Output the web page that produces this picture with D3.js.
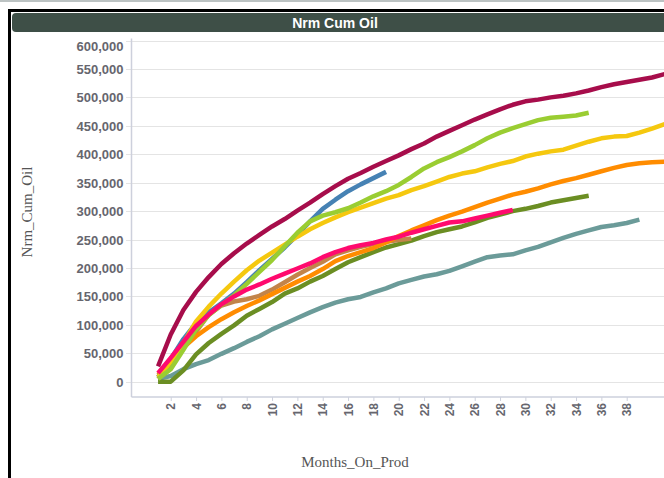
<!DOCTYPE html>
<html>
<head>
<meta charset="utf-8">
<script src="https://cdn.jsdelivr.net/npm/d3@7"></script>
<style>
  html, body { margin: 0; padding: 0; background: #ffffff; }
  svg { display: block; }
</style>
</head>
<body>
<div id="chart"></div>
<script>
// ---- Data (cumulative normalized oil by month on production) ----
const chartTitle = "Nrm Cum Oil";
const xTitle = "Months_On_Prod";
const yTitle = "Nrm_Cum_Oil";
const xTicks = [2,4,6,8,10,12,14,16,18,20,22,24,26,28,30,32,34,36,38];
const yTicks = [0,50000,100000,150000,200000,250000,300000,350000,400000,450000,500000,550000,600000];

const seriesNames  = ["teal","olive","brown","orange","blue","yellow","lime","pink","crimson"];
const seriesColors = ["#6b9b99","#6b8e23","#c2844a","#ff8c00","#4682b4","#f5c80f","#9acd32","#ff0a6e","#a70d4b"];

const tealVals = [5000,10000,22000,31000,38000,49000,59000,70000,80000,92000,102000,112000,122000,131000,139000,145000,149000,157000,164000,173000,179000,185000,189000,195000,203000,211000,219000,222000,224000,231000,237000,245000,253000,260000,266000,272000,275000,279000,285000];
const oliveVals = [0,0,20000,48000,68000,84000,99000,116000,128000,140000,155000,164000,176000,186000,198000,210000,219000,228000,236000,242000,248000,256000,263000,268000,273000,280000,288000,294000,300000,304000,309000,315000,319000,323000,327000];
const brownVals = [5000,30000,60000,88000,118000,134000,141000,145000,151000,162000,175000,188000,200000,211000,224000,231000,237000,242000,246000,249000,252000];
const orangeVals = [12000,35000,60000,80000,96000,110000,122000,133000,143000,154000,165000,176000,186000,198000,212000,221000,228000,235000,245000,256000,266000,275000,284000,292000,299000,307000,315000,322000,329000,334000,340000,347000,353000,358000,364000,370000,376000,381000,384000,386000,387000];
const blueVals = [8000,40000,75000,103000,122000,138000,155000,175000,196000,216000,236000,258000,282000,304000,320000,335000,347000,358000,369000];
const yellowVals = [8000,35000,68000,106000,132000,155000,176000,196000,213000,227000,241000,255000,268000,279000,289000,298000,306000,314000,322000,328000,337000,344000,352000,360000,366000,370000,377000,383000,388000,396000,401000,405000,408000,415000,422000,428000,431000,432000,438000,445000,453000];
const limeVals = [5000,22000,56000,92000,117000,135000,152000,172000,193000,214000,238000,262000,282000,292000,298000,305000,315000,326000,335000,346000,360000,375000,386000,395000,405000,416000,428000,438000,446000,453000,460000,464000,466000,468000,473000];
const pinkVals = [15000,42000,70000,98000,118000,136000,150000,162000,171000,181000,190000,199000,208000,219000,228000,235000,240000,244000,250000,255000,262000,268000,274000,280000,282000,287000,292000,297000,302000];
const crimsonVals = [27000,83000,126000,158000,184000,207000,226000,243000,258000,273000,286000,301000,315000,330000,344000,357000,367000,378000,388000,398000,409000,419000,431000,441000,451000,461000,470000,479000,487000,493000,496000,500000,503000,507000,512000,518000,523000,527000,531000,535000,541000];

const seriesValues = [tealVals, oliveVals, brownVals, orangeVals, blueVals, yellowVals, limeVals, pinkVals, crimsonVals];

// ---- Layout ----
const W = 664, H = 478;
const plotLeft = 131.5, plotTop = 40.5, plotBottom = 397;

const svg = d3.select("#chart").append("svg")
  .attr("width", W).attr("height", H);

// outer decorations
svg.append("rect").attr("x", 0).attr("y", 0).attr("width", W).attr("height", 2).attr("fill", "#bcc3c3");
svg.append("rect").attr("x", 9.5).attr("y", 10.5).attr("width", W + 20).attr("height", H + 20)
  .attr("fill", "#ffffff").attr("stroke", "#000000").attr("stroke-width", 3);
svg.append("rect").attr("x", 12).attr("y", 13).attr("width", W).attr("height", 19).attr("rx", 4)
  .attr("fill", "#3e4f47");
svg.append("text").attr("x", 335).attr("y", 27.5).attr("text-anchor", "middle")
  .attr("font-family", "Liberation Sans, Arial, sans-serif").attr("font-weight", "bold")
  .attr("font-size", 14).attr("fill", "#ffffff").text(chartTitle);

// scales
const x = d3.scaleLinear().domain([0, 38]).range([145.4, 626.7]);
const y = d3.scaleLinear().domain([0, 600000]).range([381.7, plotTop]);

// gridlines
const grid = svg.append("g");
grid.selectAll("line").data(yTicks).join("line")
  .attr("x1", plotLeft - 5).attr("x2", W)
  .attr("y1", d => Math.round(y(d)) + 0.5).attr("y2", d => Math.round(y(d)) + 0.5)
  .attr("stroke", "#c8c8c8").attr("stroke-width", 1).attr("stroke-dasharray", "1,1");

// y axis
const yAxis = d3.axisLeft(y).tickValues(yTicks).tickSize(0).tickPadding(8)
  .tickFormat(d3.format(",.0f"));
const gy = svg.append("g").attr("transform", `translate(${plotLeft},0)`).call(yAxis);
gy.select(".domain").remove();
gy.selectAll("text")
  .attr("font-family", "Liberation Sans, Arial, sans-serif").attr("font-weight", "bold")
  .attr("font-size", 13).attr("fill", "#66666e")
  .attr("dy", d => d === 600000 ? "0.75em" : "0.35em");
svg.append("line").attr("x1", plotLeft).attr("x2", plotLeft).attr("y1", plotTop - 2).attr("y2", plotBottom)
  .attr("stroke", "#cdd0dc").attr("stroke-width", 1.5);

// x axis
const xAxis = d3.axisBottom(x).tickValues(xTicks).tickSize(4).tickPadding(6).tickFormat(d3.format("d"));
const gx = svg.append("g").attr("transform", `translate(0,${plotBottom})`).call(xAxis);
gx.select(".domain").remove();
gx.selectAll(".tick line").attr("stroke", "#cdd0dc");
gx.selectAll("text")
  .attr("font-family", "Liberation Sans, Arial, sans-serif").attr("font-weight", "bold")
  .attr("font-size", 12).attr("fill", "#66666e")
  .attr("transform", "rotate(-90)")
  .attr("text-anchor", "end")
  .attr("x", -6).attr("y", 0).attr("dy", "0.35em");
svg.append("line").attr("x1", plotLeft).attr("x2", W).attr("y1", plotBottom).attr("y2", plotBottom)
  .attr("stroke", "#cdd0dc").attr("stroke-width", 1.5);

// axis titles
svg.append("text").attr("x", 355).attr("y", 467).attr("text-anchor", "middle")
  .attr("font-family", "Liberation Serif, Times New Roman, serif").attr("font-size", 15)
  .attr("fill", "#555555").text(xTitle);
svg.append("text").attr("transform", "translate(32,212) rotate(-90)").attr("text-anchor", "middle")
  .attr("font-family", "Liberation Serif, Times New Roman, serif").attr("font-size", 15)
  .attr("fill", "#555555").text(yTitle);

// lines
const line = d3.line().x((d, i) => x(i + 1)).y(d => y(d));
svg.append("g").selectAll("path").data(seriesValues).join("path")
  .attr("d", d => line(d))
  .attr("fill", "none")
  .attr("stroke", (d, i) => seriesColors[i])
  .attr("stroke-width", 4.5)
  .attr("stroke-linejoin", "round")
  .attr("stroke-linecap", "butt");
</script>
</body>
</html>
